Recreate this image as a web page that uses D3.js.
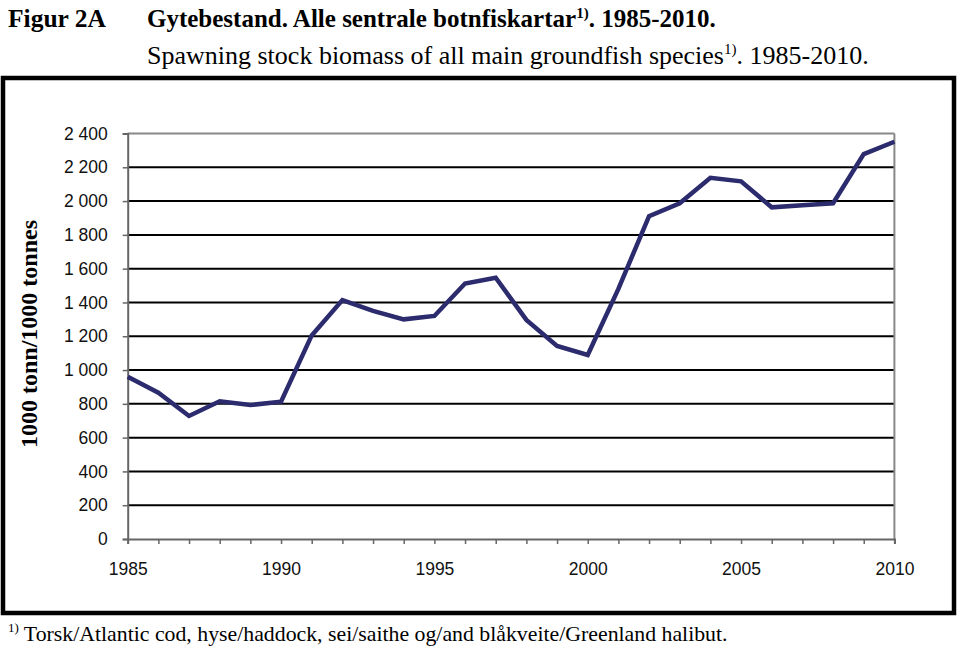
<!DOCTYPE html>
<html><head><meta charset="utf-8">
<script src="https://cdnjs.cloudflare.com/ajax/libs/d3/7.8.5/d3.min.js"></script>
<style>body{margin:0;background:#fff}svg{display:block}</style>
</head><body><svg id="c" width="959" height="647"></svg>
<script>
const years = [1985,1986,1987,1988,1989,1990,1991,1992,1993,1994,1995,1996,1997,1998,1999,2000,2001,2002,2003,2004,2005,2006,2007,2008,2009,2010];
const biomass = [960,866,728,815,793,813,1205,1414,1350,1300,1320,1512,1546,1297,1143,1089,1480,1911,1987,2138,2117,1963,1975,1987,2278,2351];
const yTicks = [0,200,400,600,800,1000,1200,1400,1600,1800,2000,2200,2400];
const xLabels = [1985,1990,1995,2000,2005,2010];
const figLabel = "Figur 2A";
const titleNo = "Gytebestand. Alle sentrale botnfiskartar";
const titleEn = "Spawning stock biomass of all main groundfish species";
const titleTail = ". 1985-2010.";
const yTitle = "1000 tonn/1000 tonnes";
const footnote = "Torsk/Atlantic cod, hyse/haddock, sei/saithe og/and blåkveite/Greenland halibut.";

const svg = d3.select("#c");
const serif = "'Liberation Serif','Times New Roman',serif";
const sans = "'Liberation Sans',Arial,sans-serif";

// Titles
svg.append("text").attr("x",8).attr("y",27).attr("font-family",serif).attr("font-weight","bold").attr("font-size",25.5).text(figLabel);
const t1 = svg.append("text").attr("x",147).attr("y",27).attr("font-family",serif).attr("font-weight","bold").attr("font-size",25);
t1.append("tspan").text(titleNo);
t1.append("tspan").attr("font-size",15).attr("dy",-9).text("1)");
t1.append("tspan").attr("dy",9).text(titleTail);
const t2 = svg.append("text").attr("x",147).attr("y",64).attr("font-family",serif).attr("font-size",26);
t2.append("tspan").text(titleEn);
t2.append("tspan").attr("font-size",15).attr("dy",-10).text("1)");
t2.append("tspan").attr("dy",10).text(titleTail);

// Outer box
svg.append("rect").attr("x",3).attr("y",78).attr("width",951).attr("height",535)
  .attr("fill","none").attr("stroke","#000").attr("stroke-width",4.5);

// Scales
const x = d3.scaleLinear().domain([1985,2010]).range([127.7,894.4]);
const y = d3.scaleLinear().domain([0,2400]).range([539,133.5]);

// Gridlines
svg.append("g").selectAll("line").data(yTicks.filter(d=>d>0 && d<2400)).join("line")
  .attr("x1",x(1985)).attr("x2",x(2010)).attr("y1",d=>y(d)).attr("y2",d=>y(d))
  .attr("stroke","#000").attr("stroke-width",2);
// top and right frame (grey)
svg.append("line").attr("x1",x(1985)).attr("x2",x(2010)).attr("y1",y(2400)).attr("y2",y(2400)).attr("stroke","#888").attr("stroke-width",2);
svg.append("line").attr("x1",x(2010)).attr("x2",x(2010)).attr("y1",y(2400)).attr("y2",y(0)).attr("stroke","#888").attr("stroke-width",2);

// Axes
const yAxis = svg.append("g").attr("transform",`translate(${x(1985)},0)`)
  .call(d3.axisLeft(y).tickValues(yTicks).tickSize(5).tickPadding(15)
    .tickFormat(d=>d3.format(",")(d).replace(","," ")));
yAxis.select(".domain").attr("stroke","#666").attr("stroke-width",2);
yAxis.selectAll(".tick line").attr("stroke","#666").attr("stroke-width",1.5);
yAxis.selectAll(".tick text").attr("font-family",sans).attr("font-size",17.5).attr("fill","#111");

const xAxis = svg.append("g").attr("transform",`translate(0,${y(0)})`)
  .call(d3.axisBottom(x).tickValues(years).tickSize(5).tickPadding(19)
    .tickFormat(d=>xLabels.includes(d)?String(d):""));
xAxis.select(".domain").attr("stroke","#666").attr("stroke-width",2);
xAxis.selectAll(".tick line").attr("stroke","#666").attr("stroke-width",1.5);
xAxis.selectAll(".tick text").attr("font-family",sans).attr("font-size",17.5).attr("fill","#111");

// Line
svg.append("path").datum(years.map((yr,i)=>[yr,biomass[i]]))
  .attr("fill","none").attr("stroke","#2b2b6e").attr("stroke-width",4.5)
  .attr("stroke-linejoin","miter")
  .attr("d",d3.line().x(d=>x(d[0])).y(d=>y(d[1])));

// Y title
svg.append("text").attr("transform","translate(37,334) rotate(-90)").attr("text-anchor","middle")
  .attr("font-family",serif).attr("font-weight","bold").attr("font-size",24).text(yTitle);

// Footnote
const fn = svg.append("text").attr("x",8).attr("y",641).attr("font-family",serif).attr("font-size",21.8);
fn.append("tspan").attr("font-size",13).attr("dy",-9).text("1)");
fn.append("tspan").attr("dy",9).attr("dx",5).text(footnote);
</script></body></html>
